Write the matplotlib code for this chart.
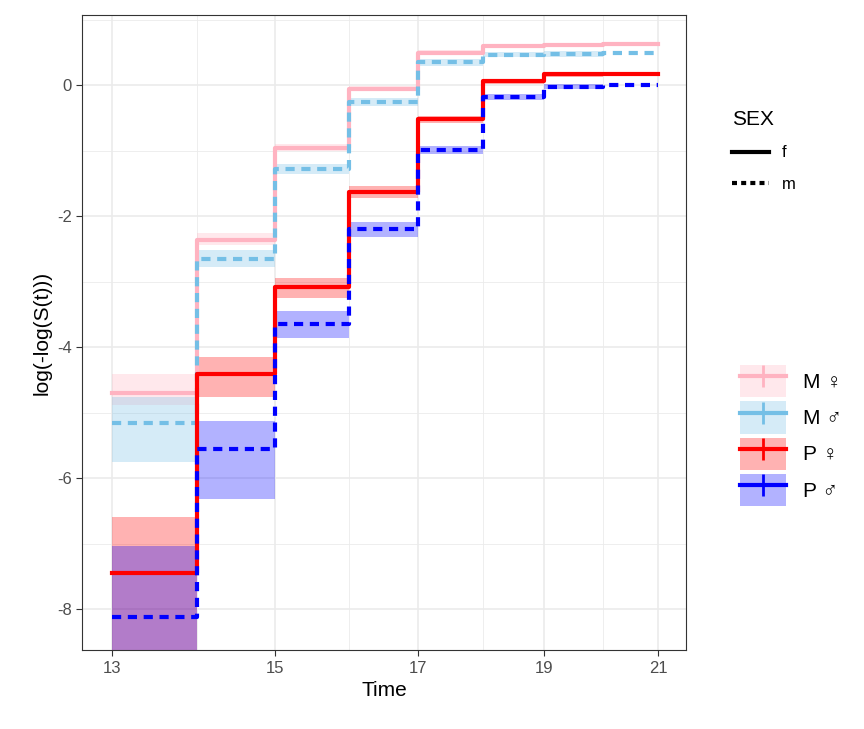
import numpy as np
import matplotlib.pyplot as plt
from matplotlib.patches import Patch
from matplotlib.lines import Line2D
from matplotlib.ticker import FixedLocator, NullFormatter

plt.rcParams['font.family'] = ['Liberation Sans', 'DejaVu Sans']

# interval start times (step post), last point repeats final value
times = [13, 14, 15, 16, 17, 18, 19, 20, 21]

groups = ["M \u2640", "M \u2642", "P \u2640", "P \u2642"]
sex = ["f", "m", "f", "m"]
colors = ["#FFB3C1", "#74BFE6", "#FF0000", "#0000FF"]

est_Mf = [-4.70, -2.37, -0.95, -0.05, 0.50, 0.60, 0.61, 0.63]
lo_Mf = [-4.89, -2.44, -1.00, -0.09, 0.46, 0.57, 0.58, 0.60]
hi_Mf = [-4.41, -2.26, -0.90, -0.01, 0.54, 0.63, 0.64, 0.66]

est_Mm = [-5.16, -2.66, -1.28, -0.26, 0.35, 0.47, 0.48, 0.49]
lo_Mm = [-5.76, -2.78, -1.36, -0.32, 0.30, 0.43, 0.44, 0.45]
hi_Mm = [-4.76, -2.52, -1.20, -0.20, 0.40, 0.51, 0.52, 0.53]

est_Pf = [-7.45, -4.41, -3.08, -1.63, -0.52, 0.06, 0.17, 0.17]
lo_Pf = [-9.50, -4.76, -3.25, -1.72, -0.57, 0.02, 0.13, 0.13]
hi_Pf = [-6.60, -4.15, -2.95, -1.54, -0.47, 0.10, 0.21, 0.21]

est_Pm = [-8.12, -5.56, -3.65, -2.20, -0.99, -0.18, -0.02, 0.00]
lo_Pm = [-9.50, -6.32, -3.86, -2.31, -1.05, -0.23, -0.06, -0.04]
hi_Pm = [-7.04, -5.13, -3.44, -2.09, -0.93, -0.13, 0.02, 0.04]

est = [est_Mf, est_Mm, est_Pf, est_Pm]
lo = [lo_Mf, lo_Mm, lo_Pf, lo_Pm]
hi = [hi_Mf, hi_Mm, hi_Pf, hi_Pm]

fig = plt.figure(figsize=(8.64, 7.29), dpi=100)
ax = fig.add_axes([0.095, 0.108, 0.699, 0.871])

for i in range(4):
    y = est[i] + [est[i][-1]]
    ax.fill_between(times[:-1], lo[i], hi[i], step='post', color=colors[i],
                    alpha=0.3, linewidth=0)
    ls = '-' if sex[i] == 'f' else (0, (2.2, 1.6))
    ax.step(times, y, where='post', color=colors[i], lw=3, linestyle=ls)

ax.set_xscale('log')
ax.set_xlim(12.66, 21.52)
ax.set_ylim(-8.63, 1.07)
ax.xaxis.set_major_locator(FixedLocator([13, 15, 17, 19, 21]))
ax.xaxis.set_minor_locator(FixedLocator([14, 16, 18, 20]))
ax.set_xticklabels(['13', '15', '17', '19', '21'])
ax.xaxis.set_minor_formatter(NullFormatter())
ax.set_yticks([0, -2, -4, -6, -8])
ax.set_yticks([1, -1, -3, -5, -7], minor=True)
ax.set_yticklabels(['0', '-2', '-4', '-6', '-8'])
ax.grid(True, which='major', color='#EBEBEB', lw=1.2)
ax.grid(True, which='minor', color='#EBEBEB', lw=0.6)
ax.set_axisbelow(True)
ax.tick_params(which='major', labelsize=12, color='#333333', labelcolor='#4D4D4D', length=4)
ax.tick_params(which='minor', length=0)
for s in ax.spines.values():
    s.set_color('#333333')
ax.set_xlabel('Time', fontsize=15)
ax.set_ylabel('log(-log(S(t)))', fontsize=15)

sex_handles = [Line2D([], [], color='black', lw=3),
               Line2D([], [], color='black', lw=3, linestyle=(0, (1.2, 1.0)))]
leg1 = fig.legend(sex_handles, ['f', 'm'], title='SEX', loc='upper left',
                  bbox_to_anchor=(0.83, 0.87), frameon=False, fontsize=12,
                  title_fontsize=15, handlelength=2.2, labelspacing=1.0)
leg1._legend_box.align = 'left'

grp_handles = [(Patch(color=c, alpha=0.3, lw=0),
                Line2D([], [], color=c, lw=3, marker='|', markersize=16, markeredgewidth=2))
               for c in colors]
fig.legend(grp_handles, groups, loc='upper left', bbox_to_anchor=(0.835, 0.525),
           frameon=False, fontsize=15, handlelength=2.2, handleheight=2.0,
           labelspacing=0.2)

fig.savefig('out.png', dpi=100)
